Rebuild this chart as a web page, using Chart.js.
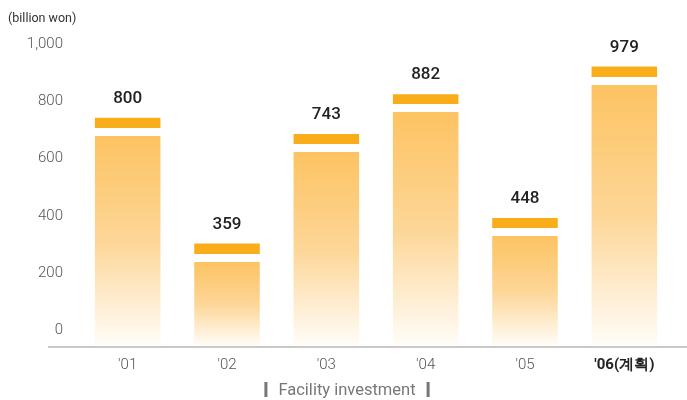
<!DOCTYPE html>
<html><head><meta charset="utf-8">
<script src="https://cdn.jsdelivr.net/npm/chart.js@4"></script>
<style>html,body{margin:0;padding:0;background:#fff}#w{width:687px;height:400px;position:relative}</style>
</head><body><div id="w"><canvas id="c"></canvas></div>
<script>
const categories = ["'01", "'02", "'03", "'04", "'05", "'06(계획)"];
const investment = [800, 359, 743, 882, 448, 979];
const yTicks = [0, 200, 400, 600, 800, 1000];
const unitLabel = "(billion won)";
const seriesName = "Facility investment";

const FONT = "Roboto, 'Liberation Sans', sans-serif";

function barFill(ctx) {
  const chart = ctx.chart;
  const area = chart.chartArea;
  if (!area || ctx.type !== 'data') return '#fdc362';
  const y = chart.scales.y;
  const top = y.getPixelForValue(ctx.raw);
  const bot = y.getPixelForValue(0);
  const h = Math.max(bot - top, 1);
  const g = chart.ctx.createLinearGradient(0, top, 0, bot);
  const a = Math.min(10 / h, 1), b = Math.min(18 / h, 1);
  g.addColorStop(0, '#f9ad1a');
  g.addColorStop(a, '#f9ad1a');
  g.addColorStop(a, '#ffffff');
  g.addColorStop(b, '#ffffff');
  g.addColorStop(b, '#fdc362');
  g.addColorStop(b + (1 - b) * 0.5, '#fdd697');
  g.addColorStop(1, '#fffdf9');
  return g;
}

const decor = {
  id: 'decor',
  beforeDatasetsDraw(chart) {
    const c = chart.ctx, area = chart.chartArea;
    c.save();
    c.fillStyle = '#c9c9c9';
    c.fillRect(48, area.bottom, chart.width - 48, 2);
    c.restore();
  },
  afterDatasetsDraw(chart) {
    const c = chart.ctx;
    const meta = chart.getDatasetMeta(0);
    c.save();
    c.fillStyle = '#222';
    c.font = "500 17px " + FONT;
    c.textAlign = 'center';
    c.textBaseline = 'middle';
    meta.data.forEach((bar, i) => {
      c.fillText(String(investment[i]), bar.x, bar.y - 19);
    });
    // caption
    c.font = "16.5px " + FONT;
    c.fillStyle = '#777';
    const cx = chart.chartArea.left + 269, cy = 391;
    c.fillText(seriesName, cx, cy);
    const w = c.measureText(seriesName).width;
    c.fillRect(cx - w / 2 - 14, cy - 9, 3, 15);
    c.fillRect(cx + w / 2 + 11, cy - 9, 3, 15);
    c.restore();
  }
};

new Chart(document.getElementById('c'), {
  type: 'bar',
  data: {
    labels: categories,
    datasets: [{
      label: seriesName,
      data: investment,
      backgroundColor: barFill,
      borderWidth: 0,
      barPercentage: 0.66,
      categoryPercentage: 1
    }]
  },
  options: {
    responsive: true,
    maintainAspectRatio: false,
    animation: false,
    events: [],
    layout: { padding: { left: 8, right: 13, top: 0, bottom: 16 } },
    plugins: {
      legend: { display: false },
      tooltip: { enabled: false },
      title: {
        display: true,
        text: unitLabel,
        align: 'start',
        color: '#333',
        font: { family: FONT, size: 12.5, weight: 'normal' },
        padding: { top: 11, bottom: 6 }
      }
    },
    scales: {
      x: {
        grid: { display: false, drawTicks: false },
        border: { display: false },
        ticks: {
          padding: 10,
          color: (ctx) => ctx.index === 5 ? '#222' : '#555',
          font: (ctx) => ({ family: FONT, size: 15, weight: ctx.index === 5 ? 'bold' : '300' })
        }
      },
      y: {
        min: 0,
        max: 1100,
        grid: { display: false, drawTicks: false },
        border: { display: false },
        afterFit(scale) { scale.width = 70; },
        afterBuildTicks(scale) { scale.ticks = yTicks.map(v => ({ value: v })); },
        ticks: {
          padding: 15,
          labelOffset: -16,
          color: '#555',
          font: { family: FONT, size: 15, weight: '300' },
          callback: (v) => v.toLocaleString('en-US')
        }
      }
    }
  },
  plugins: [decor]
});
</script>
</body></html>
